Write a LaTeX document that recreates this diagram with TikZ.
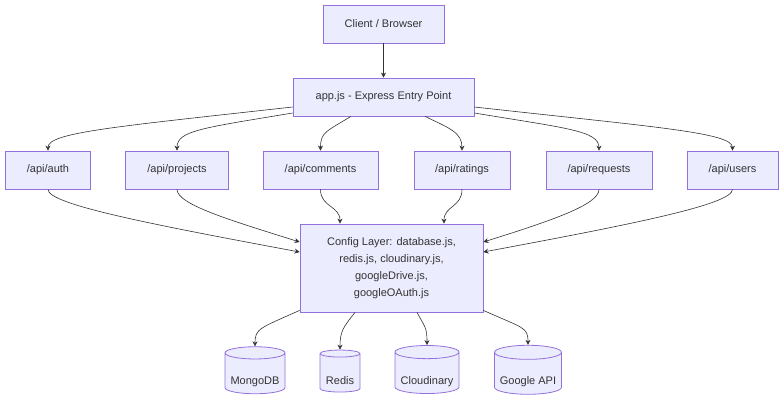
\documentclass[tikz,border=0pt]{standalone}
\usepackage{fontspec}
\setmainfont{Liberation Sans}
\usetikzlibrary{arrows.meta,shapes.geometric}
\definecolor{boxfill}{HTML}{ECECFF}
\definecolor{boxline}{HTML}{9370DB}
\definecolor{ink}{HTML}{333333}
\newcommand{\storetext}[1]{\raisebox{-11pt}[0pt][0pt]{#1}}
\tikzset{
  box/.style={draw=boxline, fill=boxfill, line width=0.8pt, inner sep=0pt,
    text=ink, font=\fontsize{11}{17}\selectfont, align=center},
  store/.style={box, cylinder, shape border rotate=90, aspect=0.25},
  link/.style={draw=ink, line width=0.6pt, -{Stealth[length=5pt,width=5pt]}}
}
\begin{document}
\begin{tikzpicture}[x=1pt, y=-1pt]
  \useasboundingbox (0,0) rectangle (784,404);
  \node[box, minimum width=121pt, minimum height=38pt] (client) at (383.5,24) {Client / Browser};
  \node[box, minimum width=181pt, minimum height=38pt] (app) at (383.5,97) {app.js - Express Entry Point};
  % routes
  \node[box, minimum width=85pt, minimum height=38pt] (auth) at (48,170) {/api/auth};
  \node[box, minimum width=103pt, minimum height=38pt] (projects) at (177,170) {/api/projects};
  \node[box, minimum width=115pt, minimum height=38pt] (comments) at (320.5,170) {/api/comments};
  \node[box, minimum width=96pt, minimum height=38pt] (ratings) at (462,170) {/api/ratings};
  \node[box, minimum width=106pt, minimum height=38pt] (requests) at (599,170) {/api/requests};
  \node[box, minimum width=91pt, minimum height=38pt] (users) at (732.5,170) {/api/users};
  \node[box, minimum width=183pt, minimum height=88pt] (config) at (391.5,268)
    {Config Layer: database.js,\\redis.js, cloudinary.js,\\googleDrive.js,\\googleOAuth.js};
  % services
  \node[store, minimum width=60pt, minimum height=47pt] (mongo) at (255,373.5) {\storetext{MongoDB}};
  \node[store, minimum width=40pt, minimum height=42pt] (redis) at (340,373) {\storetext{Redis}};
  \node[store, minimum width=64pt, minimum height=48pt] (cloudinary) at (427,373) {\storetext{Cloudinary}};
  \node[store, minimum width=67pt, minimum height=49pt] (google) at (528,373.5) {\storetext{Google API}};

  \draw[link] (client) -- (app);
  \draw[link] ([yshift=-10pt]app.west) .. controls +(-180,20) and +(0,-18) .. (auth.north);
  \draw[link] ([yshift=-16pt]app.west) .. controls +(-90,15) and +(0,-20) .. (projects.north);
  \draw[link] ([xshift=-32.5pt]app.south) .. controls +(-25,15) and +(0,-18) .. (comments.north);
  \draw[link] ([xshift=41.5pt]app.south) .. controls +(25,12) and +(0,-18) .. (ratings.north);
  \draw[link] ([yshift=-16pt]app.east) .. controls +(90,15) and +(0,-20) .. (requests.north);
  \draw[link] ([yshift=-10pt]app.east) .. controls +(180,20) and +(0,-18) .. (users.north);

  \draw[link] (auth.south) .. controls +(0,15) and +(-150,-28) .. ([yshift=16pt]config.west);
  \draw[link] (projects.south) .. controls +(0,15) and +(-70,-22) .. ([yshift=26pt]config.west);
  \draw[link] (comments.south) .. controls +(0,18) and +(0,-18) .. ([xshift=-51.5pt]config.north);
  \draw[link] (ratings.south) .. controls +(0,18) and +(0,-18) .. ([xshift=52.5pt]config.north);
  \draw[link] (requests.south) .. controls +(0,15) and +(70,-22) .. ([yshift=26pt]config.east);
  \draw[link] (users.south) .. controls +(0,15) and +(150,-28) .. ([yshift=16pt]config.east);

  \draw[link] ([yshift=2pt]config.south west) .. controls +(-40,18) and +(0,-18) .. (mongo.top);
  \draw[link] ([xshift=-36.5pt]config.south) .. controls +(-12,15) and +(0,-18) .. (redis.top);
  \draw[link] ([xshift=25.5pt]config.south) .. controls +(8,15) and +(0,-18) .. (cloudinary.top);
  \draw[link] ([yshift=2pt]config.south east) .. controls +(40,18) and +(0,-18) .. (google.top);
\end{tikzpicture}
\end{document}
